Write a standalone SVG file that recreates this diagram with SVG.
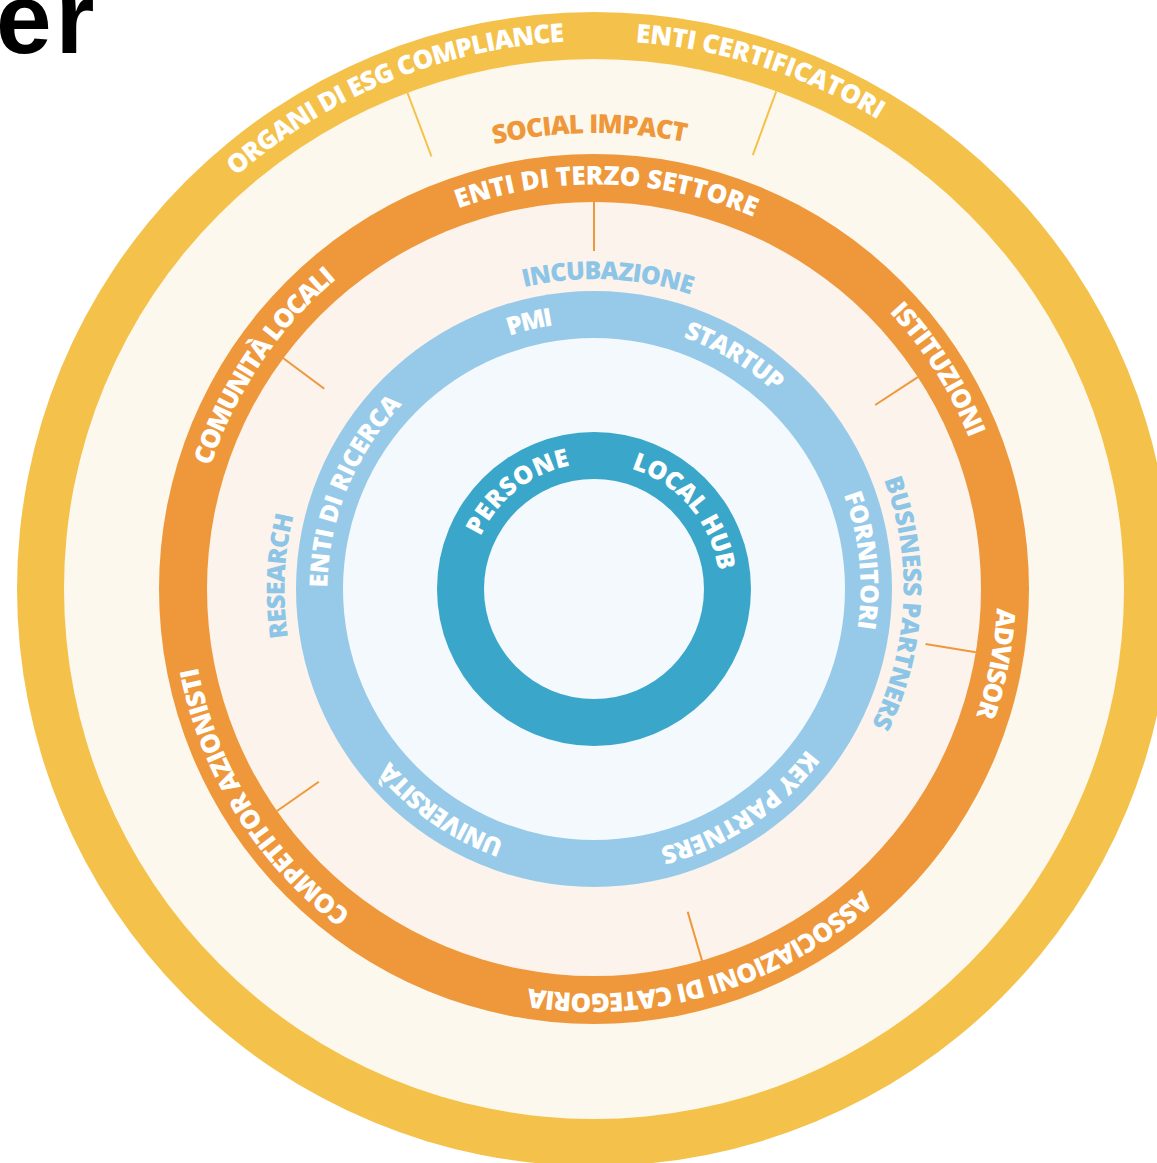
<svg xmlns="http://www.w3.org/2000/svg" xmlns:xlink="http://www.w3.org/1999/xlink" width="1157" height="1163" viewBox="0 0 1157 1163">
<style>
.lbl{font-family:"Open Sans","Liberation Sans",sans-serif;font-weight:800;}
.w{fill:#ffffff;}
.lb{fill:#8DC5E6;}
.or{fill:#EE983B;}
.f26{font-size:26px;}
.f25{font-size:25px;}
.tk-y{stroke:#F4C24B;stroke-width:2;fill:none;}
.tk-o{stroke:#EE983B;stroke-width:2;fill:none;}
</style>
<defs>
<path id="p545" d="M1065.97,861.5 A545,545 0 1 1 122.03,316.5 A545,545 0 1 1 1065.97,861.5"/>
<path id="p455" d="M988.04,816.5 A455,455 0 1 1 199.96,361.5 A455,455 0 1 1 988.04,816.5"/>
<path id="p402" d="M942.13,790 A402,402 0 1 1 245.87,388 A402,402 0 1 1 942.13,790"/>
<path id="p309" d="M861.6,743.5 A309,309 0 1 1 326.4,434.5 A309,309 0 1 1 861.6,743.5"/>
<path id="p266" d="M824.36,722 A266,266 0 1 1 363.64,456 A266,266 0 1 1 824.36,722"/>
<path id="p125" d="M702.25,651.5 A125,125 0 1 1 485.75,526.5 A125,125 0 1 1 702.25,651.5"/>
</defs>
<rect width="1157" height="1163" fill="#ffffff"/>
<text x="-4" y="53" font-family="'Liberation Sans',Arial,sans-serif" font-weight="700" font-size="100" fill="#000000" letter-spacing="4">er</text>

<g id="ring-outer">
<circle cx="594" cy="589" r="577" fill="#F4C24B"/>
<circle cx="594" cy="589" r="530" fill="#FDF8EE"/>
</g>
<g id="ring-orange">
<circle cx="594" cy="589" r="435" fill="#EE983B"/>
<circle cx="594" cy="589" r="387" fill="#FCF3EC"/>
</g>
<g id="ring-blue">
<circle cx="594" cy="589" r="298" fill="#97CAE8"/>
<circle cx="594" cy="589" r="251" fill="#F3F9FC"/>
</g>
<g id="ring-teal">
<circle cx="594" cy="589" r="157" fill="#3AA6C9"/>
<circle cx="594" cy="589" r="110" fill="#F3F9FC"/>
</g>

<g id="connectors">
<line class="tk-y" x1="407.5" y1="92.9" x2="431.5" y2="156.5"/>
<line class="tk-y" x1="776.2" y1="91.3" x2="752.8" y2="155.1"/>
<line class="tk-o" x1="594" y1="202" x2="594" y2="251"/>
<line class="tk-o" x1="283.3" y1="358.3" x2="324.3" y2="388.7"/>
<line class="tk-o" x1="917.8" y1="377.1" x2="875.2" y2="405"/>
<line class="tk-o" x1="975.8" y1="652.2" x2="925.5" y2="643.9"/>
<line class="tk-o" x1="277" y1="811" x2="318.8" y2="781.7"/>
<line class="tk-o" x1="702" y1="960.6" x2="687.7" y2="911.7"/>
</g>

<g id="label-organi-esg"><text class="lbl w f26"><textPath href="#p545" xlink:href="#p545" startOffset="55.28%" textLength="361.5" lengthAdjust="spacing">ORGANI DI ESG COMPLIANCE</textPath></text></g>
<g id="label-enti-certificatori"><text class="lbl w f26"><textPath href="#p545" xlink:href="#p545" startOffset="67.86%" textLength="256.8" lengthAdjust="spacing">ENTI CERTIFICATORI</textPath></text></g>
<g id="label-social-impact"><text class="lbl or f26"><textPath href="#p455" xlink:href="#p455" startOffset="63.14%" textLength="193" lengthAdjust="spacing">SOCIAL IMPACT</textPath></text></g>

<g id="label-enti-terzo-settore"><text class="lbl w f26"><textPath href="#p402" xlink:href="#p402" startOffset="61.19%" textLength="302.4" lengthAdjust="spacing">ENTI DI TERZO SETTORE</textPath></text></g>
<g id="label-istituzioni"><text class="lbl w f26"><textPath href="#p402" xlink:href="#p402" startOffset="79.69%" textLength="150.1" lengthAdjust="spacing">ISTITUZIONI</textPath></text></g>
<g id="label-advisor"><text class="lbl w f26"><textPath href="#p402" xlink:href="#p402" startOffset="92.44%" textLength="110.2" lengthAdjust="spacing">ADVISOR</textPath></text></g>
<g id="label-associazioni"><text class="lbl w f26"><textPath href="#p402" xlink:href="#p402" startOffset="5.08%" textLength="359.2" lengthAdjust="spacing">ASSOCIAZIONI DI CATEGORIA</textPath></text></g>
<g id="label-competitor"><text class="lbl w f26"><textPath href="#p402" xlink:href="#p402" startOffset="26.92%" textLength="296.1" lengthAdjust="spacing">COMPETITOR AZIONISTI</textPath></text></g>
<g id="label-comunita"><text class="lbl w f26"><textPath href="#p402" xlink:href="#p402" startOffset="46.61%" textLength="228.7" lengthAdjust="spacing">COMUNITÀ LOCALI</textPath></text></g>

<g id="label-incubazione"><text class="lbl lb f25"><textPath href="#p309" xlink:href="#p309" startOffset="63.03%" textLength="168.8" lengthAdjust="spacing">INCUBAZIONE</textPath></text></g>
<g id="label-business-partners"><text class="lbl lb f25"><textPath href="#p309" xlink:href="#p309" startOffset="85.94%" textLength="252.4" lengthAdjust="spacing">BUSINESS PARTNERS</textPath></text></g>
<g id="label-research"><text class="lbl lb f25"><textPath href="#p309" xlink:href="#p309" startOffset="39.17%" textLength="123" lengthAdjust="spacing">RESEARCH</textPath></text></g>

<g id="label-pmi"><text class="lbl w f25"><textPath href="#p266" xlink:href="#p266" startOffset="61.53%" textLength="45" lengthAdjust="spacing">PMI</textPath></text></g>
<g id="label-startup"><text class="lbl w f25"><textPath href="#p266" xlink:href="#p266" startOffset="72.08%" textLength="107.3" lengthAdjust="spacing">STARTUP</textPath></text></g>
<g id="label-fornitori"><text class="lbl w f25"><textPath href="#p266" xlink:href="#p266" startOffset="85.94%" textLength="135.6" lengthAdjust="spacing">FORNITORI</textPath></text></g>
<g id="label-key-partners"><text class="lbl w f25"><textPath href="#p266" xlink:href="#p266" startOffset="1.94%" textLength="180.1" lengthAdjust="spacing">KEY PARTNERS</textPath></text></g>
<g id="label-universita"><text class="lbl w f25"><textPath href="#p266" xlink:href="#p266" startOffset="22.11%" textLength="141.1" lengthAdjust="spacing">UNIVERSITÀ</textPath></text></g>
<g id="label-enti-ricerca"><text class="lbl w f25"><textPath href="#p266" xlink:href="#p266" startOffset="41.75%" textLength="202.9" lengthAdjust="spacing">ENTI DI RICERCA</textPath></text></g>

<g id="label-persone"><text class="lbl w f25"><textPath href="#p125" xlink:href="#p125" startOffset="48.53%" textLength="118.9" lengthAdjust="spacing">PERSONE</textPath></text></g>
<g id="label-local-hub"><text class="lbl w f25"><textPath href="#p125" xlink:href="#p125" startOffset="71.42%" textLength="141.4" lengthAdjust="spacing">LOCAL HUB</textPath></text></g>
</svg>
